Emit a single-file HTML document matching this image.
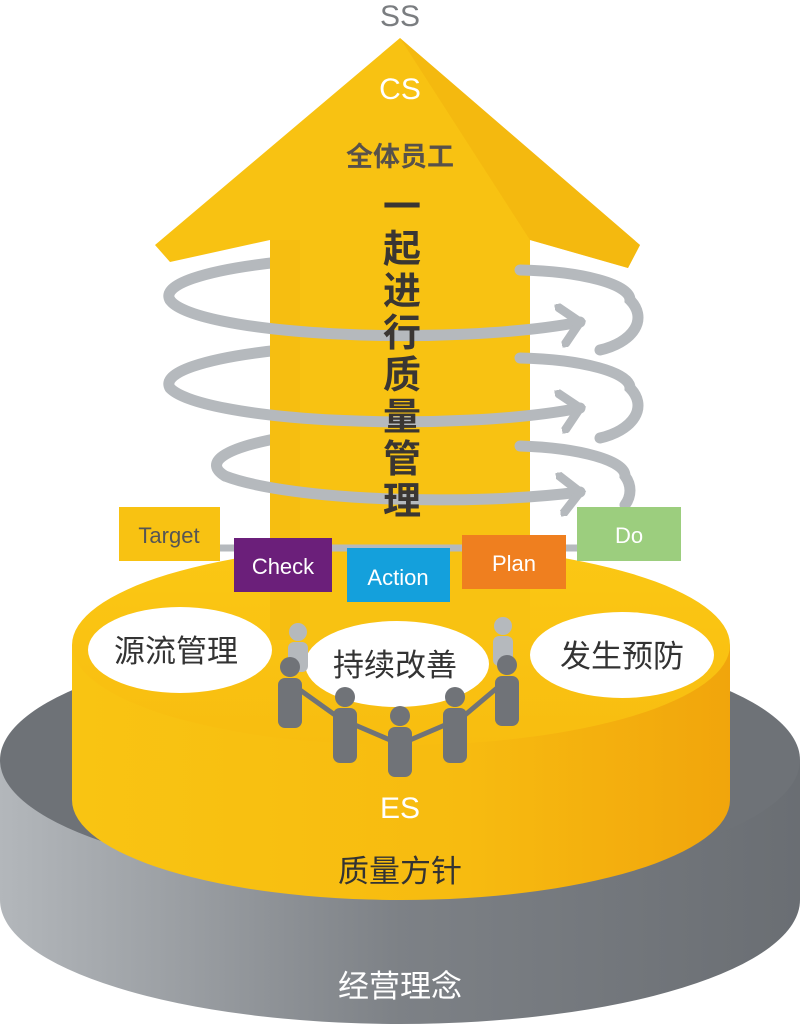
<!DOCTYPE html>
<html><head><meta charset="utf-8"><style>
body{margin:0;background:#fff;}
svg{display:block}
text{font-family:"Liberation Sans","Noto Sans CJK SC",sans-serif;}
</style></head><body>
<svg width="800" height="1024" viewBox="0 0 800 1024" xmlns="http://www.w3.org/2000/svg">
<defs>
<linearGradient id="gside" x1="0" x2="1" y1="0" y2="0">
<stop offset="0" stop-color="#b3b7bb"/><stop offset="0.5" stop-color="#7d8186"/><stop offset="1" stop-color="#6a6e73"/>
</linearGradient>
<linearGradient id="yside" x1="0" x2="1" y1="0" y2="0">
<stop offset="0" stop-color="#f9c412"/><stop offset="0.6" stop-color="#f7bb10"/><stop offset="1" stop-color="#f1a50c"/>
</linearGradient>
<linearGradient id="ytop" x1="0" x2="0" y1="0" y2="1">
<stop offset="0" stop-color="#fbc814"/><stop offset="1" stop-color="#f8bd10"/>
</linearGradient>
<marker id="ah" markerWidth="4" markerHeight="4" refX="2" refY="2" orient="auto" markerUnits="strokeWidth">
<path d="M0,0 L2,2 L0,4" fill="none" stroke="#b5b9bd" stroke-width="0.8"/>
</marker>
</defs>
<path d="M0,760 L0,900 A400,124 0 0 0 800,900 L800,760 Z" fill="url(#gside)"/>
<ellipse cx="400" cy="760" rx="400" ry="122" fill="#6e7277"/>
<path d="M72,645 L72,800 A329,100 0 0 0 730,800 L730,645 Z" fill="url(#yside)"/>
<ellipse cx="401" cy="645" rx="329" ry="100" fill="url(#ytop)"/>
<g fill="none" stroke="#b5b9bd" stroke-width="11" stroke-linecap="round">
<path d="M280,262 A235,40 0 0 0 170,300"/>
<path d="M280,350 A235,40 0 0 0 170,388"/>
<path d="M280,438 A235,40 0 0 0 225,476"/>
</g>
<path d="M400,38 L640,245 L628,268 L530,240 L530,640 L270,640 L270,240 L170,262 L155,245 Z" fill="#f8c212"/>
<path d="M400,38 L640,245 L628,268 L530,240 Z" fill="#f2b20e" opacity="0.6"/>
<path d="M270,240 L270,640 L300,640 L300,240 Z" fill="#f4ba0f" opacity="0.5"/>
<g fill="none" stroke="#b5b9bd" stroke-width="11" stroke-linecap="round">
<path d="M170,300 A235,40 0 0 0 580,322" marker-end="url(#ah)"/>
<path d="M520,270 A120,30 0 0 1 630,300 A60,35 0 0 1 600,350"/>
<path d="M170,388 A235,40 0 0 0 580,408" marker-end="url(#ah)"/>
<path d="M520,358 A120,30 0 0 1 630,388 A60,35 0 0 1 600,438"/>
<path d="M225,476 A235,40 0 0 0 580,492" marker-end="url(#ah)"/>
<path d="M520,446 A120,30 0 0 1 625,476 A40,30 0 0 1 625,505"/>
<path d="M210,548 L600,548" stroke-width="7"/>
</g>
<text x="400" y="26" font-size="30" fill="#7a7d80" text-anchor="middle">SS</text>
<text x="400" y="99" font-size="30" fill="#fff" text-anchor="middle">CS</text>
<text x="400" y="166" font-size="27" font-weight="bold" fill="#58514a" text-anchor="middle">全体员工</text>
<g font-size="38" font-weight="bold" fill="#3a3633" text-anchor="middle">
<text x="402" y="220">一</text><text x="402" y="262">起</text><text x="402" y="304">进</text><text x="402" y="346">行</text>
<text x="402" y="388">质</text><text x="402" y="430">量</text><text x="402" y="472">管</text><text x="402" y="514">理</text>
</g>
<rect x="119" y="507" width="101" height="54" fill="#f8c212"/>
<text x="169" y="543" font-size="22" fill="#555" text-anchor="middle">Target</text>
<rect x="234" y="538" width="98" height="54" fill="#6b1f7a"/>
<text x="283" y="574" font-size="22" fill="#fff" text-anchor="middle">Check</text>
<rect x="347" y="548" width="103" height="54" fill="#14a0dc"/>
<text x="398" y="585" font-size="22" fill="#fff" text-anchor="middle">Action</text>
<rect x="462" y="535" width="104" height="54" fill="#ef7f1f"/>
<text x="514" y="571" font-size="22" fill="#fff" text-anchor="middle">Plan</text>
<rect x="577" y="507" width="104" height="54" fill="#9cce7e"/>
<text x="629" y="543" font-size="22" fill="#fff" text-anchor="middle">Do</text>
<ellipse cx="180" cy="650" rx="92" ry="43" fill="#fff"/>
<text x="176" y="662" font-size="31" fill="#333" text-anchor="middle">源流管理</text>
<ellipse cx="397" cy="664" rx="92" ry="43" fill="#fff"/>
<text x="395" y="676" font-size="31" fill="#333" text-anchor="middle">持续改善</text>
<ellipse cx="622" cy="655" rx="92" ry="43" fill="#fff"/>
<text x="622" y="667" font-size="31" fill="#333" text-anchor="middle">发生预防</text>
<g fill="#707378">
<circle cx="298" cy="632" r="9" fill="#b5b9bd"/><rect x="288" y="642" width="20" height="30" rx="6" fill="#b5b9bd"/>
<circle cx="503" cy="626" r="9" fill="#b5b9bd"/><rect x="493" y="636" width="20" height="30" rx="6" fill="#b5b9bd"/>
<circle cx="290" cy="667" r="10"/><rect x="278" y="678" width="24" height="50" rx="7"/>
<circle cx="345" cy="697" r="10"/><rect x="333" y="708" width="24" height="55" rx="7"/>
<circle cx="400" cy="716" r="10"/><rect x="388" y="727" width="24" height="50" rx="7"/>
<circle cx="455" cy="697" r="10"/><rect x="443" y="708" width="24" height="55" rx="7"/>
<circle cx="507" cy="665" r="10"/><rect x="495" y="676" width="24" height="50" rx="7"/>
<path d="M300,690 L335,715 M355,725 L390,740 M410,740 L445,725 M465,715 L497,688" stroke="#707378" stroke-width="5"/>
</g>
<text x="400" y="818" font-size="30" fill="#fff" text-anchor="middle">ES</text>
<text x="400" y="882" font-size="31" fill="#333" text-anchor="middle">质量方针</text>
<text x="400" y="997" font-size="31" fill="#fff" text-anchor="middle">经营理念</text>
</svg>
</body></html>
